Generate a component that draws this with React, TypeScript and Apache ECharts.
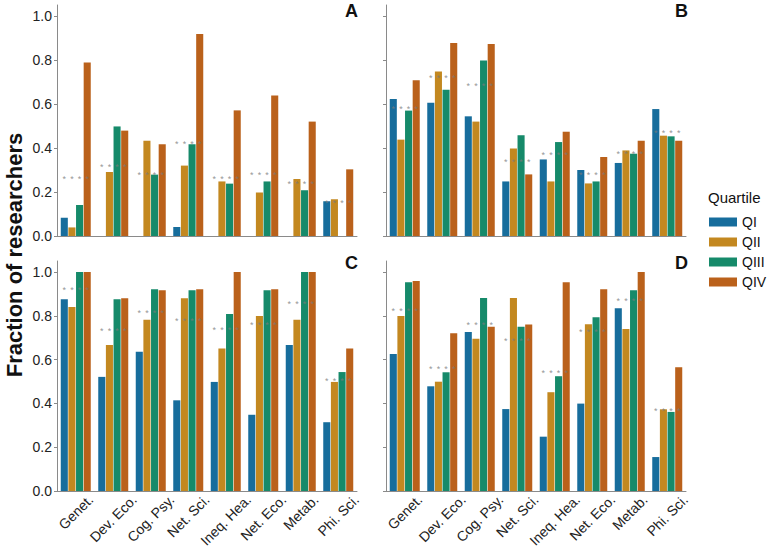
import React, { useEffect, useRef } from "react";
import * as echarts from "echarts";

const categories = ["Genet.", "Dev. Eco.", "Cog. Psy.", "Net. Sci.", "Ineq. Hea.", "Net. Eco.", "Metab.", "Phi. Sci."];
const quartiles = ["QI", "QII", "QIII", "QIV"];
const panelLabels = ["A", "B", "C", "D"];
const yTicks = [0, 0.2, 0.4, 0.6, 0.8, 1.0];

const aQI = [0.083, 0, 0, 0.041, 0, 0, 0, 0.158];
const aQII = [0.039, 0.291, 0.433, 0.32, 0.248, 0.198, 0.259, 0.167];
const aQIII = [0.141, 0.498, 0.279, 0.417, 0.238, 0.248, 0.208, 0];
const aQIV = [0.789, 0.479, 0.417, 0.918, 0.571, 0.639, 0.52, 0.303];
const aStars = [0.268, 0.324, 0.288, 0.429, 0.27, 0.288, 0.245, 0.159];

const bQI = [0.623, 0.606, 0.544, 0.248, 0.348, 0.3, 0.332, 0.577];
const bQII = [0.438, 0.748, 0.52, 0.398, 0.248, 0.239, 0.389, 0.456];
const bQIII = [0.57, 0.665, 0.798, 0.458, 0.427, 0.248, 0.374, 0.453];
const bQIV = [0.708, 0.877, 0.873, 0.28, 0.474, 0.359, 0.433, 0.433];
const bStars = [0.585, 0.729, 0.691, 0.347, 0.377, 0.288, 0.383, 0.479];

const cQI = [0.875, 0.521, 0.636, 0.414, 0.498, 0.348, 0.667, 0.314];
const cQII = [0.84, 0.667, 0.782, 0.88, 0.65, 0.799, 0.782, 0.498];
const cQIII = [1.0, 0.875, 0.921, 0.916, 0.808, 0.916, 1.0, 0.543];
const cQIV = [1.0, 0.88, 0.916, 0.921, 1.0, 0.921, 1.0, 0.651];
const cStars = [0.928, 0.741, 0.822, 0.787, 0.744, 0.767, 0.863, 0.513];

const dQI = [0.626, 0.478, 0.726, 0.374, 0.248, 0.399, 0.834, 0.155];
const dQII = [0.799, 0.499, 0.695, 0.881, 0.451, 0.761, 0.74, 0.373];
const dQIII = [0.953, 0.542, 0.881, 0.75, 0.524, 0.793, 0.916, 0.361];
const dQIV = [0.959, 0.72, 0.75, 0.76, 0.953, 0.921, 1.0, 0.565];
const dStars = [0.831, 0.565, 0.769, 0.695, 0.549, 0.735, 0.875, 0.376];

const panels = [
  { bars: [aQI, aQII, aQIII, aQIV], stars: aStars },
  { bars: [bQI, bQII, bQIII, bQIV], stars: bStars },
  { bars: [cQI, cQII, cQIII, cQIV], stars: cStars },
  { bars: [dQI, dQII, dQIII, dQIV], stars: dStars },
];

const colors = ["#176d9c", "#c38820", "#168a6a", "#ba611b"];
const FONT = "'Liberation Sans', Arial, sans-serif";
const AXIS_COLOR = "#8a8a8a";
const XLABEL_SIZE = 14;

export default function App() {
  const ref = useRef<HTMLDivElement>(null);
  useEffect(() => {
    if (!ref.current) return;
    const chart = echarts.init(ref.current, null, { renderer: "svg" });
    const gridPos = [
      { left: 57, top: 5, width: 300, height: 231 },
      { left: 386, top: 5, width: 300, height: 231 },
      { left: 57, top: 261, width: 300, height: 230 },
      { left: 386, top: 261, width: 300, height: 230 },
    ];
    const grid = gridPos.map((g) => ({ ...g, containLabel: false }));
    const xAxis = gridPos.map((_, i) => ({
      type: "category",
      gridIndex: i,
      data: categories,
      axisLine: { lineStyle: { color: AXIS_COLOR, width: 1 } },
      axisTick: { alignWithLabel: true, length: 3, lineStyle: { color: AXIS_COLOR } },
      axisLabel: { show: false },
      splitLine: { show: false },
    }));
    const yAxis = gridPos.map((_, i) => ({
      type: "value",
      gridIndex: i,
      min: 0,
      max: 1.05,
      interval: 0.2,
      axisLine: { show: true, lineStyle: { color: AXIS_COLOR, width: 1 } },
      axisTick: { show: true, length: 3, lineStyle: { color: AXIS_COLOR }, customValues: yTicks },
      axisLabel: {
        show: i % 2 === 0,
        fontSize: 14,
        color: "#222",
        fontFamily: FONT,
        margin: 5,
        customValues: yTicks,
        formatter: (v: number) => v.toFixed(1),
      },
      splitLine: { show: false },
    }));
    const series: any[] = [];
    panels.forEach((p, pi) => {
      p.bars.forEach((vals, qi) => {
        series.push({
          type: "bar",
          name: quartiles[qi],
          xAxisIndex: pi,
          yAxisIndex: pi,
          data: vals,
          barCategoryGap: "20%",
          barGap: "8%",
          itemStyle: { color: colors[qi] },
          emphasis: { disabled: true },
        });
      });
      quartiles.forEach((_, qi) => {
        series.push({
          type: "scatter",
          xAxisIndex: pi,
          yAxisIndex: pi,
          data: p.stars.map((v, ci) => [categories[ci], v]),
          symbolSize: 1,
          itemStyle: { color: "rgba(0,0,0,0)" },
          silent: true,
          z: 5,
          label: {
            show: true,
            position: "inside",
            formatter: "*",
            fontSize: 9,
            color: "#7a7a7a",
            fontFamily: FONT,
            offset: [(qi - 1.5) * 7.6, 2],
          },
        });
      });
    });
    chart.setOption({
      animation: false,
      backgroundColor: "#fff",
      grid,
      xAxis,
      yAxis,
      series,
      legend: {
        data: quartiles,
        orient: "vertical",
        left: 704,
        top: 210,
        itemWidth: 28,
        itemHeight: 9,
        itemGap: 6,
        icon: "rect",
        textStyle: { fontSize: 14, lineHeight: 14, color: "#111", fontFamily: FONT },
        selectedMode: false,
      },
    });

    const graphic: any[] = [
      {
        type: "text",
        x: 14,
        y: 255,
        rotation: Math.PI / 2,
        style: {
          text: "Fraction of researchers",
          fontSize: 22,
          fontWeight: "bold",
          fontFamily: FONT,
          fill: "#111",
          textAlign: "center",
          textVerticalAlign: "middle",
        },
      },
      {
        type: "text",
        x: 708,
        y: 197,
        style: {
          text: "Quartile",
          fontSize: 15,
          fontFamily: FONT,
          fill: "#111",
          textAlign: "left",
          textVerticalAlign: "middle",
        },
      },
    ];
    const letterPos = [
      [358, 2],
      [688, 2],
      [358, 254],
      [688, 254],
    ];
    panelLabels.forEach((t, i) => {
      graphic.push({
        type: "text",
        x: letterPos[i][0],
        y: letterPos[i][1],
        style: {
          text: t,
          fontSize: 18,
          fontWeight: "bold",
          fontFamily: FONT,
          fill: "#111",
          textAlign: "right",
          textVerticalAlign: "top",
        },
      });
    });

    // rotated x tick labels, bounding box centered under each tick
    const ctx = document.createElement("canvas").getContext("2d");
    if (ctx) ctx.font = `${XLABEL_SIZE}px 'Liberation Sans', Arial, sans-serif`;
    const s2 = Math.SQRT2;
    [2, 3].forEach((gi) => {
      const top = gridPos[gi].top + gridPos[gi].height + 2;
      categories.forEach((cat) => {
        const px = chart.convertToPixel({ xAxisIndex: gi }, cat) as number;
        const L = ctx ? ctx.measureText(cat).width : cat.length * 7;
        const h = 12;
        const half = (L + h) / (2 * s2);
        graphic.push({
          type: "text",
          x: px,
          y: top + half,
          rotation: Math.PI / 4,
          style: {
            text: cat,
            fontSize: XLABEL_SIZE,
            fontFamily: FONT,
            fill: "#222",
            textAlign: "center",
            textVerticalAlign: "middle",
          },
        });
      });
    });
    chart.setOption({ graphic });
    return () => chart.dispose();
  }, []);
  return <div ref={ref} style={{ position: "absolute", left: 0, top: 0, width: 768, height: 550 }} />;
}
